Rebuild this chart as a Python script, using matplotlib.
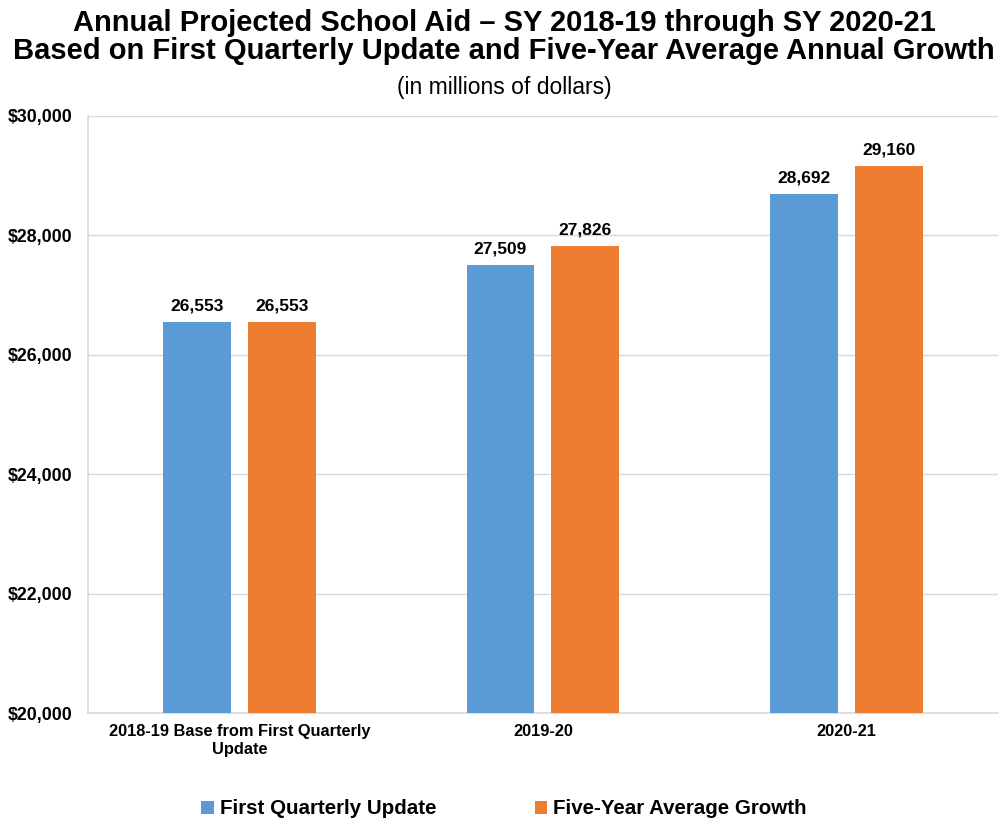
import numpy as np
import matplotlib.pyplot as plt

plt.rcParams['font.family'] = ['Liberation Sans', 'DejaVu Sans']

# data
categories = ['2018-19 Base from First Quarterly\nUpdate', '2019-20', '2020-21']
first_quarterly = [26553, 27509, 28692]
five_year_avg = [26553, 27826, 29160]
series_names = ['First Quarterly Update', 'Five-Year Average Growth']
yticks = [20000, 22000, 24000, 26000, 28000, 30000]

blue = '#5B9BD5'
orange = '#ED7D31'

fig = plt.figure(figsize=(10.08, 8.22), dpi=100)
ax = fig.add_axes([0.0873, 0.1326, 0.9027, 0.7263])

x = np.arange(len(categories))
w = 0.224
off = 0.14
b1 = ax.bar(x - off, first_quarterly, w, color=blue, label=series_names[0], zorder=3)
b2 = ax.bar(x + off, five_year_avg, w, color=orange, label=series_names[1], zorder=3)

for bars in (b1, b2):
    for rect in bars:
        h = rect.get_height()
        ax.annotate(f'{h:,.0f}', (rect.get_x() + rect.get_width() / 2, h),
                    xytext=(0, 6), textcoords='offset points',
                    ha='center', va='bottom', fontsize=12.5, fontweight='bold')

ax.set_xlim(-0.5, 2.5)
ax.set_ylim(20000, 30000)
ax.set_yticks(yticks)
ax.set_yticklabels([f'${v:,}' for v in yticks], fontsize=12.8, fontweight='bold')
ax.set_xticks(x)
ax.set_xticklabels(categories, fontsize=11.8, fontweight='bold', linespacing=1.25)
ax.tick_params(length=0, pad=8)
ax.tick_params(axis='y', pad=11.5)
ax.grid(axis='y', color='#D9D9D9', linewidth=1, zorder=0)
for s in ['top', 'right']:
    ax.spines[s].set_visible(False)
for s in ['left', 'bottom']:
    ax.spines[s].set_color('#D9D9D9')
    ax.spines[s].set_linewidth(1.2)

fig.text(0.5, 0.9555, 'Annual Projected School Aid \u2013 SY 2018-19 through SY 2020-21\n'
         'Based on First Quarterly Update and Five-Year Average Annual Growth',
         ha='center', va='center', fontsize=21, fontweight='bold', linespacing=1.0)
fig.text(0.5, 0.893, '(in millions of dollars)', ha='center', va='center', fontsize=16.5)

fig.legend(loc='center', bbox_to_anchor=(0.5, 0.016), ncol=2, frameon=False,
           prop={'size': 14.8, 'weight': 'bold'}, handlelength=0.6, handleheight=0.6,
           handletextpad=0.3, columnspacing=4.8)

fig.savefig('out.png', dpi=100)
